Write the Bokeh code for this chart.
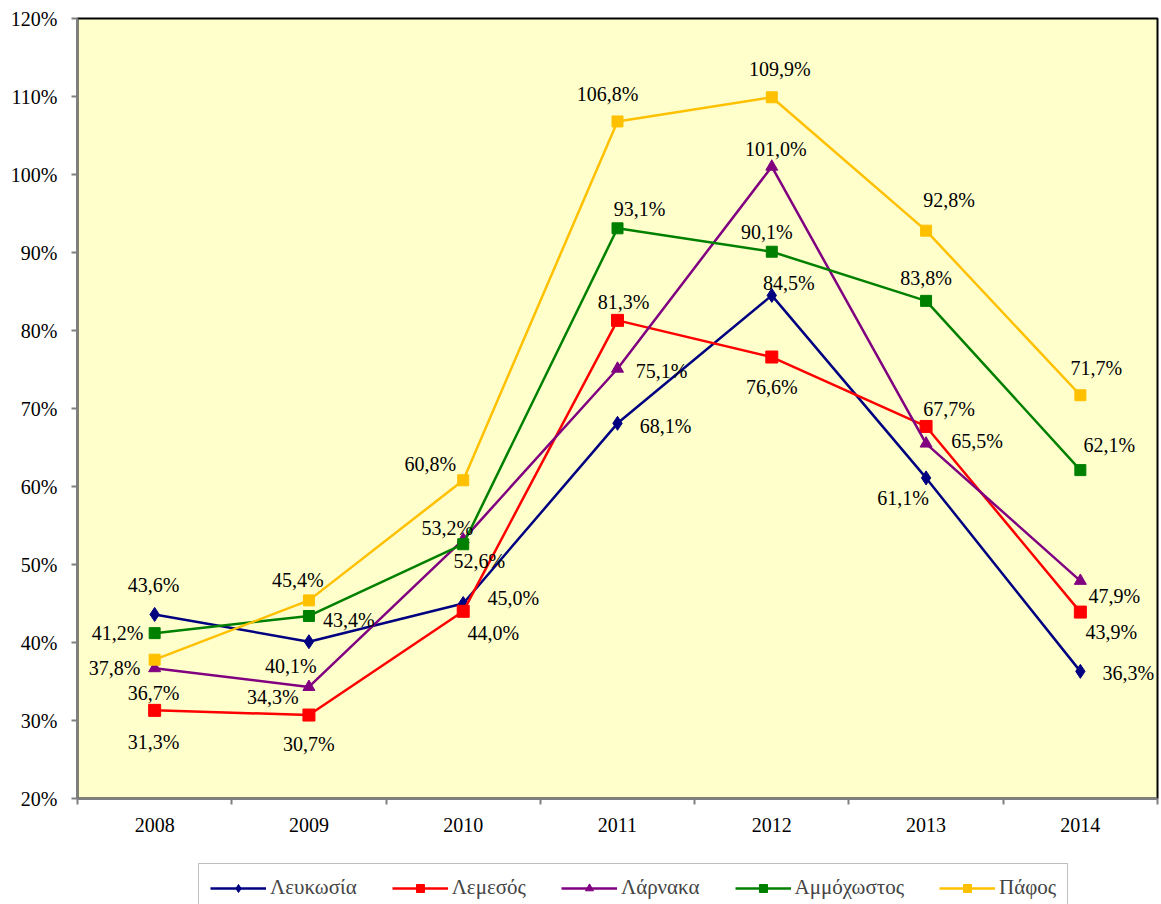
from bokeh.plotting import figure
from bokeh.layouts import column
from bokeh.models import ColumnDataSource, Legend, LegendItem, FixedTicker, PrintfTickFormatter, Range1d
from bokeh.core.properties import value
from bokeh.embed import file_html
from bokeh.resources import INLINE

# ---- data ----
years = [2008, 2009, 2010, 2011, 2012, 2013, 2014]
lefkosia = [43.6, 40.1, 45.0, 68.1, 84.5, 61.1, 36.3]
lemesos = [31.3, 30.7, 44.0, 81.3, 76.6, 67.7, 43.9]
larnaka = [36.7, 34.3, 53.2, 75.1, 101.0, 65.5, 47.9]
ammochostos = [41.2, 43.4, 52.6, 93.1, 90.1, 83.8, 62.1]
pafos = [37.8, 45.4, 60.8, 106.8, 109.9, 92.8, 71.7]
names = ["Λευκωσία", "Λεμεσός", "Λάρνακα", "Αμμόχωστος", "Πάφος"]
y_ticks = list(range(20, 121, 10))

# ---- label offsets in screen pixels (style) ----
lefkosia_dx = [-1, -18, 50, 48, 17, -23, 48]
lefkosia_dy = [-29, 24, -6, 3, -12, 20, 2]
lemesos_dx = [-1, 0, 30, 6, 0, 23, 31]
lemesos_dy = [32, 29, 22, -18, 30, -17, 20]
larnaka_dx = [-1, -36, -16, 44, 4, 51, 34]
larnaka_dy = [25, 10, -12, 2, -18, -3, 15]
ammochostos_dx = [-37, 40, 16, 22, -5, 0, 29]
ammochostos_dy = [0, 4, 17, -19, -20, -23, -25]
pafos_dx = [-40, -11, -33, -10, 8, 23, 16]
pafos_dy = [8, -20, -16, -27, -28, -31, -27]

series = [lefkosia, lemesos, larnaka, ammochostos, pafos]
offsets = [(lefkosia_dx, lefkosia_dy), (lemesos_dx, lemesos_dy), (larnaka_dx, larnaka_dy),
           (ammochostos_dx, ammochostos_dy), (pafos_dx, pafos_dy)]
colors = ["#000080", "#FF0000", "#800080", "#008000", "#FFC000"]
markers = ["diamond", "square", "triangle", "square", "square"]
msizes = [14, 12, 12, 11, 11]

FONT = "Liberation Serif"

p = figure(width=1160, height=843,
           min_border_left=77, min_border_right=3, min_border_top=18, min_border_bottom=45,
           x_range=Range1d(2007.5, 2014.5), y_range=Range1d(20, 120),
           output_backend="svg", toolbar_location=None,
           background_fill_color="#FFFFCC", border_fill_color="white")

p.xgrid.visible = False
p.ygrid.visible = False
p.outline_line_color = "black"
p.outline_line_width = 2

# x axis
p.xaxis.ticker = FixedTicker(ticks=years, minor_ticks=[y - 0.5 for y in years] + [years[-1] + 0.5])
p.xaxis.major_tick_out = 0
p.xaxis.major_tick_in = 0
p.xaxis.minor_tick_out = 6
p.xaxis.minor_tick_in = 0
p.xaxis.minor_tick_line_color = "#808080"
p.xaxis.minor_tick_line_width = 2
p.xaxis.axis_line_color = "#808080"
p.xaxis.axis_line_width = 2
p.xaxis.major_label_standoff = 13
p.xaxis.major_label_text_font = FONT
p.xaxis.major_label_text_font_size = "20px"
p.xaxis.major_label_text_color = "black"

# y axis
p.yaxis.ticker = FixedTicker(ticks=y_ticks)
p.yaxis.formatter = PrintfTickFormatter(format="%d%%")
p.yaxis.major_tick_out = 6
p.yaxis.major_tick_in = 0
p.yaxis.minor_tick_out = 0
p.yaxis.minor_tick_in = 0
p.yaxis.major_tick_line_color = "#808080"
p.yaxis.major_tick_line_width = 2
p.yaxis.axis_line_color = "#808080"
p.yaxis.axis_line_width = 2
p.yaxis.major_label_standoff = 14
p.yaxis.major_label_text_font = FONT
p.yaxis.major_label_text_font_size = "20px"
p.yaxis.major_label_text_color = "black"

label_sources = []
for name, vals, col, mk, ms, (dx, dy) in zip(names, series, colors, markers, msizes, offsets):
    src = ColumnDataSource(dict(
        x=years, y=vals,
        label=[f"{v:.1f}".replace(".", ",") + "%" for v in vals],
        dx=dx, dy=dy))
    p.line("x", "y", source=src, line_color=col, line_width=2.5)
    p.scatter("x", "y", source=src, marker=mk, size=ms, fill_color=col, line_color=col)
    label_sources.append(src)

for src in label_sources:
    p.text("x", "y", text="label", x_offset="dx", y_offset="dy", source=src,
           text_align="center", text_baseline="middle",
           text_font=value(FONT), text_font_size="20px", text_color="black")

# ---- legend strip below the chart ----
pl = figure(width=1160, height=61, min_border=0,
            x_range=Range1d(0, 1), y_range=Range1d(0, 1),
            x_axis_type=None, y_axis_type=None,
            output_backend="svg", toolbar_location=None,
            background_fill_color="white", border_fill_color="white",
            outline_line_color=None)
pl.xgrid.visible = False
pl.ygrid.visible = False

# legend swatches: one off-screen point each so the legend glyphs are drawn
items = []
for name, col, mk, ms in zip(names, colors, markers, msizes):
    lr = pl.line(x=[-10, -9], y=[-10, -10], line_color=col, line_width=2.5)
    sr = pl.scatter(x=[-10], y=[-10], marker=mk, size=ms, fill_color=col, line_color=col)
    items.append(LegendItem(label=name, renderers=[lr, sr]))

legend = Legend(items=items, orientation="horizontal", location=(121, -8),
                border_line_color="#808080", border_line_width=1,
                background_fill_color="white",
                label_text_font=FONT, label_text_font_size="21px",
                glyph_width=56, glyph_height=20, label_standoff=4,
                spacing=35, padding=11, margin=0)
pl.add_layout(legend)

open("out.html", "w").write(file_html(column(p, pl, spacing=0), INLINE))
